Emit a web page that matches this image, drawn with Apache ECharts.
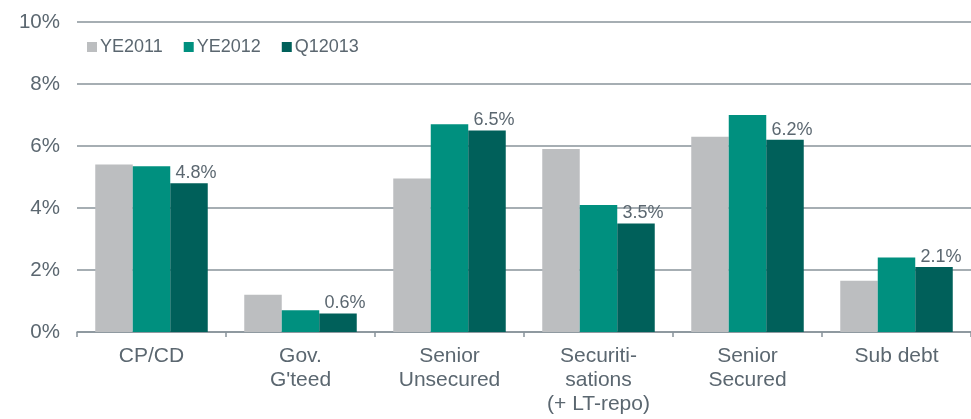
<!DOCTYPE html>
<html>
<head>
<meta charset="utf-8">
<script src="https://cdn.jsdelivr.net/npm/echarts@6/dist/echarts.min.js"></script>
<style>
html,body{margin:0;padding:0;background:#fff;}
#chart{width:971px;height:419px;}
</style>
</head>
<body>
<div id="chart"></div>
<script>
const categories = ['CP/CD', "Gov.\nG'teed", 'Senior\nUnsecured', 'Securiti-\nsations\n(+ LT-repo)', 'Senior\nSecured', 'Sub debt'];
const seriesNames = ['YE2011', 'YE2012', 'Q12013'];
const ye2011 = [5.4, 1.2, 4.95, 5.9, 6.3, 1.65];
const ye2012 = [5.35, 0.7, 6.7, 4.1, 7.0, 2.4];
const q12013 = [4.8, 0.6, 6.5, 3.5, 6.2, 2.1];
const yTicks = [0, 2, 4, 6, 8, 10];

const colors = ['#BCBEC0', '#00907F', '#00605A'];
const textColor = '#5B6770';
const gridColor = '#88939A';
const font = 'Arial, "Liberation Sans", Helvetica, sans-serif';

const chart = echarts.init(document.getElementById('chart'), null, {renderer: 'canvas'});

function mkSeries(name, data, idx, withLabel) {
  return {
    name: name,
    type: 'bar',
    data: data,
    barWidth: 37.5,
    barGap: '0%',
    itemStyle: {color: colors[idx]},
    label: withLabel ? {
      show: true,
      position: 'top',
      distance: 1,
      offset: [7, 0],
      color: textColor,
      fontFamily: font,
      fontSize: 18,
      formatter: p => p.value.toFixed(1) + '%'
    } : {show: false}
  };
}

chart.setOption({
  animation: false,
  grid: {left: 77, right: -12, top: 22, bottom: 87, containLabel: false},
  legend: {
    data: seriesNames,
    left: 82,
    top: 33,
    itemWidth: 10,
    itemHeight: 10,
    itemGap: 21,
    icon: 'rect',
    textStyle: {color: textColor, fontFamily: font, fontSize: 18, padding: [0, 0, 0, -2]}
  },
  xAxis: {
    type: 'category',
    data: categories,
    axisLine: {show: true, lineStyle: {color: gridColor, width: 1.5}},
    axisTick: {show: true, length: 5, lineStyle: {color: gridColor, width: 1.5}},
    axisLabel: {
      color: textColor, fontFamily: font, fontSize: 21, lineHeight: 24, margin: 12, interval: 0
    }
  },
  yAxis: {
    type: 'value',
    min: yTicks[0],
    max: yTicks[yTicks.length - 1],
    interval: yTicks[1] - yTicks[0],
    axisLine: {show: false},
    axisTick: {show: false},
    splitLine: {lineStyle: {color: gridColor, width: 1.5}},
    axisLabel: {
      color: textColor, fontFamily: font, fontSize: 20.5, margin: 17,
      formatter: v => v + '%'
    }
  },
  series: [
    mkSeries(seriesNames[0], ye2011, 0, false),
    mkSeries(seriesNames[1], ye2012, 1, false),
    mkSeries(seriesNames[2], q12013, 2, true)
  ]
});
</script>
</body>
</html>
